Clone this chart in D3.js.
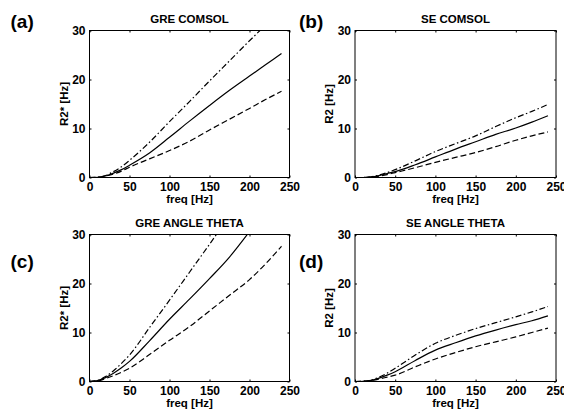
<!DOCTYPE html>
<html lang="en">
<head>
  <meta charset="UTF-8">
  <title>R2 / R2* vs frequency</title>
  <script src="https://d3js.org/d3.v7.min.js"></script>
  <style>
    body {
      margin: 0;
      background: #fff;
    }

    svg {
      display: block;
      font-family: "Liberation Sans", Arial, sans-serif;
      font-weight: bold;
    }

    .tick text {
      font-size: 12px;
      font-weight: bold;
      fill: #000;
    }

    .tick line {
      stroke: #000;
    }

    .frame {
      fill: none;
      stroke: #000;
      stroke-width: 1;
    }

    .curve {
      fill: none;
      stroke: #000;
      stroke-width: 1.2;
    }
  </style>
</head>
<body>

<svg width="564" height="411"></svg>

<script>
  // frequency samples [Hz]
  const freq = [0, 10, 20, 30, 40, 50, 75, 100, 125, 150, 175, 200, 220, 240];

  const xTicks = [0, 50, 100, 150, 200, 250];
  const yTicks = [0, 10, 20, 30];

  // (a) GRE COMSOL
  const greComsolSolid   = [0, 0.05, 0.3, 0.9, 1.6, 2.5, 5.0, 8.2, 11.5, 14.7, 17.8, 20.7, 23.0, 25.3];
  const greComsolDashDot = [0, 0.05, 0.4, 1.2, 2.2, 3.5, 7.2, 11.4, 15.5, 19.7, 23.8, 27.9, 31.1, 34.3];
  const greComsolDashed  = [0, 0.05, 0.3, 0.7, 1.3, 2.1, 3.8, 5.5, 7.4, 9.7, 11.9, 14.1, 15.9, 17.6];

  // (b) SE COMSOL
  const seComsolSolid   = [0, 0, 0.1, 0.4, 0.8, 1.2, 2.6, 4.2, 5.8, 7.3, 8.8, 10.1, 11.3, 12.6];
  const seComsolDashDot = [0, 0, 0.15, 0.5, 1.0, 1.6, 3.4, 5.3, 6.9, 8.5, 10.4, 12.2, 13.5, 14.9];
  const seComsolDashed  = [0, 0, 0.1, 0.3, 0.6, 1.0, 2.0, 3.1, 4.1, 5.1, 6.3, 7.6, 8.5, 9.3];

  // (c) GRE ANGLE THETA
  const greThetaSolid   = [0, 0.2, 0.8, 1.7, 2.8, 4.1, 8.3, 12.7, 16.8, 21.0, 25.4, 30.6, null, null];
  const greThetaDashDot = [0, 0.2, 1.0, 2.2, 3.7, 5.4, 11.0, 16.6, 22.3, 28.0, 33.8, null, null, null];
  const greThetaDashed  = [0, 0.1, 0.6, 1.2, 1.9, 2.7, 5.5, 8.4, 11.2, 14.4, 17.6, 20.8, 24.0, 27.6];

  // (d) SE ANGLE THETA
  const seThetaSolid   = [0, 0.05, 0.2, 0.7, 1.3, 2.0, 4.3, 6.4, 7.9, 9.3, 10.5, 11.6, 12.4, 13.4];
  const seThetaDashDot = [0, 0.05, 0.25, 0.9, 1.7, 2.7, 5.4, 7.8, 9.4, 10.8, 12.0, 13.2, 14.2, 15.3];
  const seThetaDashed  = [0, 0.05, 0.2, 0.5, 0.9, 1.3, 3.0, 4.6, 5.9, 7.1, 8.1, 9.1, 10.0, 10.9];

  const dashes = {solid: null, dashdot: "6,2.5,1.5,2.5", dashed: "6,3"};

  const panels = [
    {tag: "(a)", title: "GRE COMSOL", ylabel: "R2* [Hz]", x: 89.5, y: 30.5, w: 200, h: 147,
      series: [[greComsolSolid, "solid"], [greComsolDashDot, "dashdot"], [greComsolDashed, "dashed"]]},
    {tag: "(b)", title: "SE COMSOL", ylabel: "R2 [Hz]", x: 355, y: 30.5, w: 201, h: 147,
      series: [[seComsolSolid, "solid"], [seComsolDashDot, "dashdot"], [seComsolDashed, "dashed"]]},
    {tag: "(c)", title: "GRE ANGLE THETA", ylabel: "R2* [Hz]", x: 89.5, y: 234.5, w: 200, h: 147,
      series: [[greThetaSolid, "solid"], [greThetaDashDot, "dashdot"], [greThetaDashed, "dashed"]]},
    {tag: "(d)", title: "SE ANGLE THETA", ylabel: "R2 [Hz]", x: 355, y: 234.5, w: 201, h: 147,
      series: [[seThetaSolid, "solid"], [seThetaDashDot, "dashdot"], [seThetaDashed, "dashed"]]}
  ];

  const svg = d3.select("svg");

  panels.forEach((p, i) => {
    const g = svg.append("g").attr("transform", `translate(${p.x},${p.y})`);

    const x = d3.scaleLinear().domain([0, 250]).range([0, p.w]);
    const y = d3.scaleLinear().domain([0, 30]).range([p.h, 0]);

    g.append("clipPath").attr("id", "clip" + i)
      .append("rect").attr("width", p.w).attr("height", p.h);

    // inner ticks on all four sides, labels only bottom/left
    g.append("g").attr("transform", `translate(0,${p.h})`)
      .call(d3.axisBottom(x).tickValues(xTicks).tickSizeInner(-2).tickSizeOuter(0).tickPadding(5))
      .call(a => a.select(".domain").remove());
    g.append("g")
      .call(d3.axisTop(x).tickValues(xTicks).tickSizeInner(-2).tickSizeOuter(0).tickFormat(""))
      .call(a => a.select(".domain").remove());
    g.append("g")
      .call(d3.axisLeft(y).tickValues(yTicks).tickSizeInner(-2).tickSizeOuter(0).tickPadding(4))
      .call(a => a.select(".domain").remove());
    g.append("g").attr("transform", `translate(${p.w},0)`)
      .call(d3.axisRight(y).tickValues(yTicks).tickSizeInner(-2).tickSizeOuter(0).tickFormat(""))
      .call(a => a.select(".domain").remove());

    g.append("rect").attr("class", "frame").attr("width", p.w).attr("height", p.h);

    const line = d3.line()
      .defined(d => d[1] != null)
      .x(d => x(d[0]))
      .y(d => y(d[1]))
      .curve(d3.curveMonotoneX);

    g.append("g").attr("clip-path", `url(#clip${i})`)
      .selectAll("path")
      .data(p.series)
      .join("path")
      .attr("class", "curve")
      .attr("stroke-dasharray", d => dashes[d[1]])
      .attr("d", d => line(freq.map((f, k) => [f, d[0][k]])));

    g.append("text")
      .attr("x", p.w / 2).attr("y", -8)
      .attr("text-anchor", "middle")
      .attr("font-size", "11.5px")
      .text(p.title);

    g.append("text")
      .attr("x", p.w / 2).attr("y", p.h + 25)
      .attr("text-anchor", "middle")
      .attr("font-size", "11.5px")
      .text("freq [Hz]");

    g.append("text")
      .attr("transform", `translate(-22,${p.h / 2}) rotate(-90)`)
      .attr("text-anchor", "middle")
      .attr("font-size", "11.5px")
      .text(p.ylabel);

    g.append("text")
      .attr("x", i % 2 === 0 ? -79 : -56)
      .attr("y", i < 2 ? -3 : 33)
      .attr("font-size", "19px")
      .text(p.tag);
  });
</script>
</body>
</html>
